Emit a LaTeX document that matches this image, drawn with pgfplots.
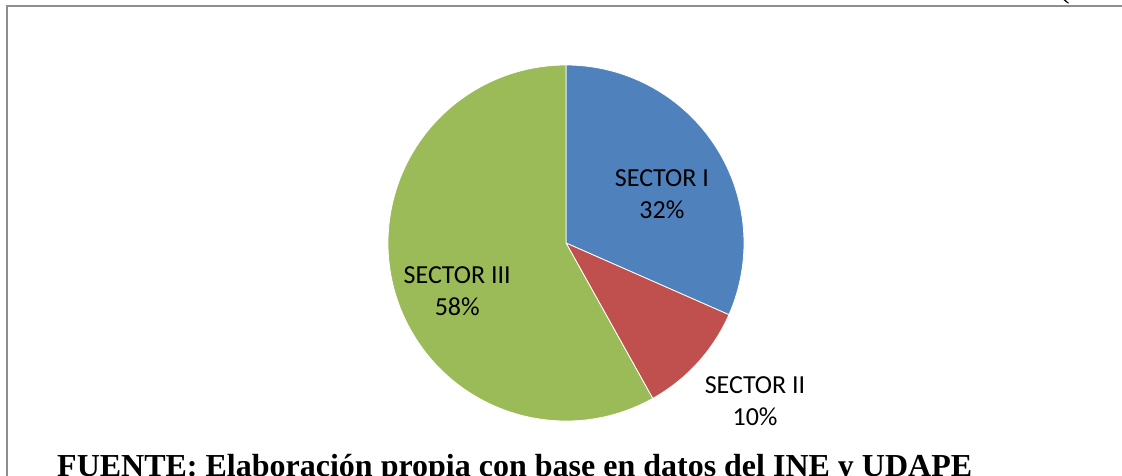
\documentclass[border=0pt]{standalone}
\usepackage{fontspec}
\setmainfont{Liberation Serif}
\newfontfamily\carlito{Carlito}
\usepackage{pgfplots}
\usepackage{pgfplotstable}
\pgfplotsset{compat=1.18}
\definecolor{secI}{HTML}{4F81BD}
\definecolor{secII}{HTML}{C0504D}
\definecolor{secIII}{HTML}{9BBB59}
\definecolor{framegray}{HTML}{8E8E8E}
\tikzset{seclabel/.style={font=\carlito\fontsize{26}{26}\selectfont, inner sep=0pt, anchor=base}}
\pgfkeys{/pgf/number format/assume math mode=true}

% share of each sector in %, label position in pie radii
\pgfplotstableread{
name          share  lx      ly
{SECTOR I}    31.6   0.539   0.320
{SECTOR II}   10.3   1.062  -0.848
{SECTOR III}  58.1  -0.611  -0.225
}\sectors

\newcommand\getsector[2]{%
  \pgfplotstablegetelem{#1}{name}\of\sectors
  \expandafter\let\csname name#2\endcsname\pgfplotsretval
  \pgfplotstablegetelem{#1}{share}\of\sectors
  \expandafter\let\csname share#2\endcsname\pgfplotsretval
  \pgfplotstablegetelem{#1}{lx}\of\sectors
  \expandafter\let\csname lx#2\endcsname\pgfplotsretval
  \pgfplotstablegetelem{#1}{ly}\of\sectors
  \expandafter\let\csname ly#2\endcsname\pgfplotsretval}
\getsector{0}{A}
\getsector{1}{B}
\getsector{2}{C}
\pgfmathsetmacro\angA{90-3.6*\shareA}
\pgfmathsetmacro\angB{\angA-3.6*\shareB}
\pgfmathsetmacro\lyAp{\lyA-0.18}
\pgfmathsetmacro\lyBp{\lyB-0.18}
\pgfmathsetmacro\lyCp{\lyC-0.185}

\begin{document}
\begin{tikzpicture}
\useasboundingbox (0pt,0pt) rectangle (1122pt,476pt);
\clip (0pt,0pt) rectangle (1122pt,476pt);
\draw[framegray, line width=2pt] (6.5pt,0pt) -- (6.5pt,469.7pt) -- (1122pt,469.7pt);
\node[anchor=base west, inner sep=0pt, font=\fontsize{32}{32}\selectfont] at (1059pt,478pt) {(};
\node[anchor=base west, inner sep=0pt, font=\bfseries\fontsize{32}{32}\selectfont]
  at (57pt,-0.5pt) {FUENTE: Elaboración propia con base en datos del INE y UDAPE};

\begin{axis}[
  at={(566pt,233pt)}, anchor=origin,
  x=178pt, y=178pt,
  xmin=-1, xmax=1, ymin=-1, ymax=1,
  hide axis, clip=false,
]
\fill[secI, draw=white, line width=0.8pt] (axis cs:0,0) -- (axis cs:0,1)
  arc[start angle=90, end angle=\angA, radius=178pt] -- cycle;
\fill[secII, draw=white, line width=0.8pt] (axis cs:0,0) -- (axis cs:{cos(\angA)},{sin(\angA)})
  arc[start angle=\angA, end angle=\angB, radius=178pt] -- cycle;
\fill[secIII, draw=white, line width=0.8pt] (axis cs:0,0) -- (axis cs:{cos(\angB)},{sin(\angB)})
  arc[start angle=\angB, end angle=-270, radius=178pt] -- cycle;

\node[seclabel] at (axis cs:\lxA,\lyA) {\nameA};
\node[seclabel] at (axis cs:\lxA,\lyAp) {\pgfmathprintnumber[fixed,precision=0]{\shareA}\%};
\node[seclabel] at (axis cs:\lxB,\lyB) {\nameB};
\node[seclabel] at (axis cs:\lxB,\lyBp) {\pgfmathprintnumber[fixed,precision=0]{\shareB}\%};
\node[seclabel] at (axis cs:\lxC,\lyC) {\nameC};
\node[seclabel] at (axis cs:\lxC,\lyCp) {\pgfmathprintnumber[fixed,precision=0]{\shareC}\%};
\end{axis}
\end{tikzpicture}
\end{document}
